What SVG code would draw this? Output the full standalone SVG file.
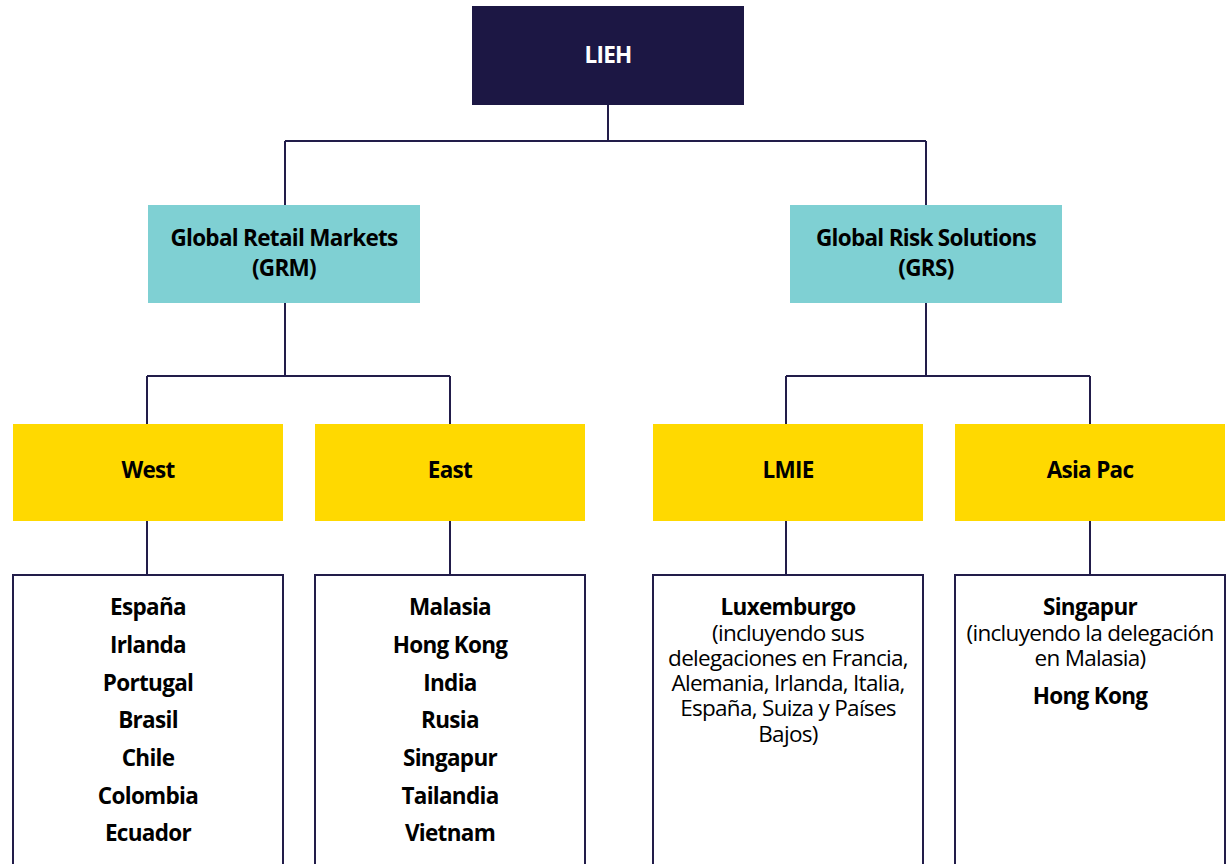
<svg xmlns="http://www.w3.org/2000/svg" width="1226" height="864" viewBox="0 0 1226 864">
<style>
.root{fill:#1c1744}
.l1{fill:#7fd0d3}
.l2{fill:#ffd900}
.list{fill:#fff;stroke:#221d4a;stroke-width:2}
.conn{fill:none;stroke:#221d4a;stroke-width:2}
text{font-family:"Open Sans","Noto Sans","Liberation Sans",sans-serif;text-anchor:middle;fill:#000;font-size:22.5px;letter-spacing:-0.7px}
.b{font-weight:700}
.w{fill:#fff}
.r{font-weight:400}
</style>
<rect width="1226" height="864" fill="#fff"/>
<g id="connectors">
<path class="conn" d="M608 105V141M285 141H926M285 141V205M926 141V205"/>
<path class="conn" d="M285 303V376M147 376H450M147 376V424M450 376V424"/>
<path class="conn" d="M926 303V376M786 376H1090M786 376V424M1090 376V424"/>
<path class="conn" d="M147 521V574M450 521V574M786 521V574M1090 521V574"/>
</g>
<g id="lieh"><rect class="root" x="472" y="6" width="272" height="99"/><text class="b w" x="608" y="63">LIEH</text></g>
<g id="grm"><rect class="l1" x="148" y="205" width="272" height="98"/><text class="b" x="284" y="246">Global Retail Markets</text><text class="b" x="284" y="276">(GRM)</text></g>
<g id="grs"><rect class="l1" x="790" y="205" width="272" height="98"/><text class="b" x="926" y="246">Global Risk Solutions</text><text class="b" x="926" y="276">(GRS)</text></g>
<g id="west"><rect class="l2" x="13" y="424" width="270" height="97"/><text class="b" x="148" y="478">West</text></g>
<g id="east"><rect class="l2" x="315" y="424" width="270" height="97"/><text class="b" x="450" y="478">East</text></g>
<g id="lmie"><rect class="l2" x="653" y="424" width="270" height="97"/><text class="b" x="788" y="478">LMIE</text></g>
<g id="asiapac"><rect class="l2" x="955" y="424" width="270" height="97"/><text class="b" x="1090" y="478">Asia Pac</text></g>
<g id="west-list"><path class="list" d="M13 870V575H283V870"/>
<text class="b" x="148" y="615">España</text><text class="b" x="148" y="653">Irlanda</text><text class="b" x="148" y="691">Portugal</text><text class="b" x="148" y="728">Brasil</text><text class="b" x="148" y="766">Chile</text><text class="b" x="148" y="804">Colombia</text><text class="b" x="148" y="841">Ecuador</text></g>
<g id="east-list"><path class="list" d="M315 870V575H585V870"/>
<text class="b" x="450" y="615">Malasia</text><text class="b" x="450" y="653">Hong Kong</text><text class="b" x="450" y="691">India</text><text class="b" x="450" y="728">Rusia</text><text class="b" x="450" y="766">Singapur</text><text class="b" x="450" y="804">Tailandia</text><text class="b" x="450" y="841">Vietnam</text></g>
<g id="lmie-list"><path class="list" d="M653 870V575H923V870"/>
<text class="b" x="788" y="615">Luxemburgo</text><text class="r" x="788" y="641">(incluyendo sus</text><text class="r" x="788" y="666">delegaciones en Francia,</text><text class="r" x="788" y="691">Alemania, Irlanda, Italia,</text><text class="r" x="788" y="716">España, Suiza y Países</text><text class="r" x="788" y="742">Bajos)</text></g>
<g id="asiapac-list"><path class="list" d="M955 870V575H1225V870"/>
<text class="b" x="1090" y="615">Singapur</text><text class="r" x="1090" y="641">(incluyendo la delegación</text><text class="r" x="1090" y="666">en Malasia)</text><text class="b" x="1090" y="704">Hong Kong</text></g>
</svg>
